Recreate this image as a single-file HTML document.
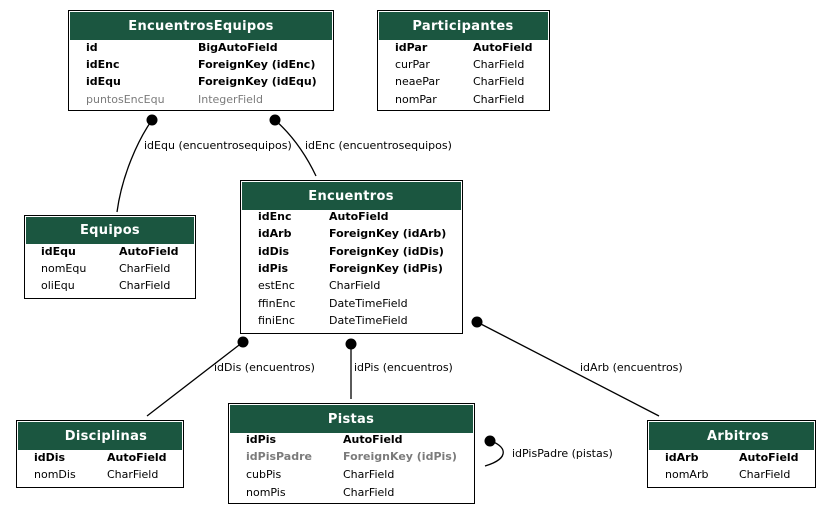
<!DOCTYPE html>
<html><head><meta charset="utf-8"><style>
html,body{margin:0;padding:0;background:#fff;}
svg{display:block;font-family:"DejaVu Sans","Liberation Sans",sans-serif;}
.h{fill:#fff;font-weight:bold;font-size:13px;text-anchor:middle;letter-spacing:0.3px;}
.r{font-size:11px;fill:#000;}
.b{font-weight:bold;}
.g{fill:#7b7b7b;}
.l{font-size:11px;fill:#000;}
.hd{fill:#1b5640;}
.ob{fill:#fff;stroke:#000;stroke-width:1;}
</style></head><body>
<svg width="831" height="515" viewBox="0 0 831 515">
<g stroke="#000" fill="none" stroke-width="1.3">
<path d="M152,120 C138,140 122,175 117,212"/>
<path d="M275,120 C292,135 306,155 316,176"/>
<path d="M243,342 L147,416"/>
<path d="M351,344 L351,399"/>
<path d="M477,322 L659,416"/>
<path d="M490,441 C505,445 512,458 485,466"/>
</g>
<g fill="#000">
<circle cx="152" cy="120" r="5.5"/><circle cx="275" cy="120" r="5.5"/>
<circle cx="243" cy="342" r="5.5"/><circle cx="351" cy="344" r="5.5"/>
<circle cx="477" cy="322" r="5.5"/><circle cx="490" cy="441" r="5.5"/>
</g>
<text class="l" x="144" y="149">idEqu (encuentrosequipos)</text>
<text class="l" x="305" y="149">idEnc (encuentrosequipos)</text>
<text class="l" x="214" y="371">idDis (encuentros)</text>
<text class="l" x="354" y="371">idPis (encuentros)</text>
<text class="l" x="580" y="371">idArb (encuentros)</text>
<text class="l" x="512" y="457">idPisPadre (pistas)</text>

<rect class="ob" x="68.5" y="10.5" width="265" height="100"/>
<rect class="hd" x="70" y="12" width="262" height="28"/>
<text class="h" x="201" y="30">EncuentrosEquipos</text>
<text class="r b" x="86" y="51">id</text><text class="r b" x="198" y="51">BigAutoField</text>
<text class="r b" x="86" y="68">idEnc</text><text class="r b" x="198" y="68">ForeignKey (idEnc)</text>
<text class="r b" x="86" y="85">idEqu</text><text class="r b" x="198" y="85">ForeignKey (idEqu)</text>
<text class="r g" x="86" y="103">puntosEncEqu</text><text class="r g" x="198" y="103">IntegerField</text>

<rect class="ob" x="377.5" y="10.5" width="172" height="100"/>
<rect class="hd" x="379" y="12" width="169" height="28"/>
<text class="h" x="463" y="30">Participantes</text>
<text class="r b" x="395" y="51">idPar</text><text class="r b" x="473" y="51">AutoField</text>
<text class="r" x="395" y="68">curPar</text><text class="r" x="473" y="68">CharField</text>
<text class="r" x="395" y="85">neaePar</text><text class="r" x="473" y="85">CharField</text>
<text class="r" x="395" y="103">nomPar</text><text class="r" x="473" y="103">CharField</text>

<rect class="ob" x="24.5" y="215.5" width="171" height="83"/>
<rect class="hd" x="26" y="217" width="168" height="27"/>
<text class="h" x="110" y="234">Equipos</text>
<text class="r b" x="41" y="255">idEqu</text><text class="r b" x="119" y="255">AutoField</text>
<text class="r" x="41" y="272">nomEqu</text><text class="r" x="119" y="272">CharField</text>
<text class="r" x="41" y="289">oliEqu</text><text class="r" x="119" y="289">CharField</text>

<rect class="ob" x="240.5" y="180.5" width="222" height="153"/>
<rect class="hd" x="242" y="182" width="219" height="28"/>
<text class="h" x="351" y="200">Encuentros</text>
<text class="r b" x="258" y="220">idEnc</text><text class="r b" x="329" y="220">AutoField</text>
<text class="r b" x="258" y="237">idArb</text><text class="r b" x="329" y="237">ForeignKey (idArb)</text>
<text class="r b" x="258" y="255">idDis</text><text class="r b" x="329" y="255">ForeignKey (idDis)</text>
<text class="r b" x="258" y="272">idPis</text><text class="r b" x="329" y="272">ForeignKey (idPis)</text>
<text class="r" x="258" y="289">estEnc</text><text class="r" x="329" y="289">CharField</text>
<text class="r" x="258" y="307">ffinEnc</text><text class="r" x="329" y="307">DateTimeField</text>
<text class="r" x="258" y="324">finiEnc</text><text class="r" x="329" y="324">DateTimeField</text>

<rect class="ob" x="16.5" y="420.5" width="167" height="67"/>
<rect class="hd" x="18" y="422" width="164" height="28"/>
<text class="h" x="106" y="440">Disciplinas</text>
<text class="r b" x="34" y="461">idDis</text><text class="r b" x="107" y="461">AutoField</text>
<text class="r" x="34" y="478">nomDis</text><text class="r" x="107" y="478">CharField</text>

<rect class="ob" x="228.5" y="403.5" width="246" height="100"/>
<rect class="hd" x="230" y="405" width="243" height="28"/>
<text class="h" x="351" y="423">Pistas</text>
<text class="r b" x="246" y="443">idPis</text><text class="r b" x="343" y="443">AutoField</text>
<text class="r b g" x="246" y="460">idPisPadre</text><text class="r b g" x="343" y="460">ForeignKey (idPis)</text>
<text class="r" x="246" y="478">cubPis</text><text class="r" x="343" y="478">CharField</text>
<text class="r" x="246" y="496">nomPis</text><text class="r" x="343" y="496">CharField</text>

<rect class="ob" x="647.5" y="420.5" width="168" height="67"/>
<rect class="hd" x="649" y="422" width="165" height="28"/>
<text class="h" x="738" y="440">Arbitros</text>
<text class="r b" x="665" y="461">idArb</text><text class="r b" x="739" y="461">AutoField</text>
<text class="r" x="665" y="478">nomArb</text><text class="r" x="739" y="478">CharField</text>
</svg>
</body></html>
